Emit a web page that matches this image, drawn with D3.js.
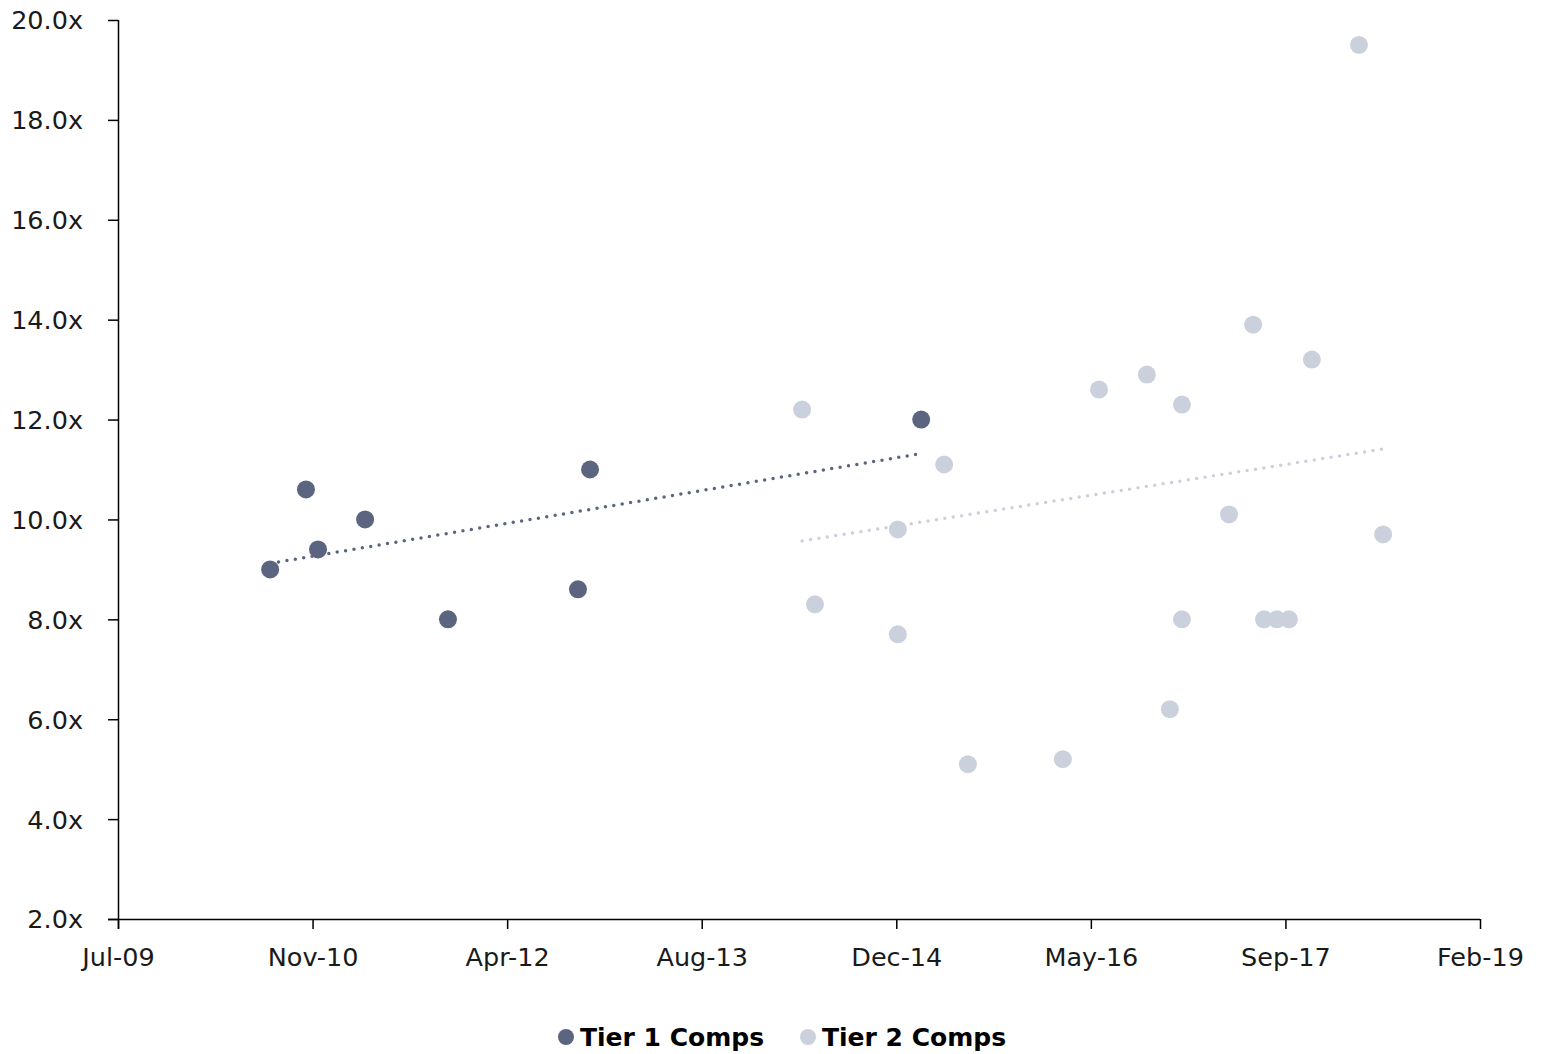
<!DOCTYPE html>
<html>
<head>
<meta charset="utf-8">
<script src="https://cdn.jsdelivr.net/npm/d3@7"></script>
<style>
  body { margin: 0; background: #fff; }
  svg text { font-family: "DejaVu Sans", "Liberation Sans", sans-serif; }
</style>
</head>
<body>
<svg id="drawing_region"></svg>
<script>
// dates are Excel serial numbers (days since 1899-12-30)
const tier1_dates = [40391, 40483, 40514, 40635, 40848, 41182, 41213, 42064];
const tier1_values = [9.0, 10.6, 9.4, 10.0, 8.0, 8.6, 11.0, 12.0];

const tier2_dates = [41758, 41791, 42004, 42004, 42123, 42184, 42428, 42521, 42644, 42703,
                     42734, 42734, 42855, 42917, 42945, 42978, 43009, 43068, 43189, 43251];
const tier2_values = [12.2, 8.3, 9.8, 7.7, 11.1, 5.1, 5.2, 12.6, 12.9, 6.2,
                      12.3, 8.0, 10.1, 13.9, 8.0, 8.0, 8.0, 13.2, 19.5, 9.7];

// trendline end values
const tier1_trend = [9.12, 11.32];
const tier2_trend = [9.57, 11.41];

const x_ticks = [40000, 40500, 41000, 41500, 42000, 42500, 43000, 43500];
const y_ticks = [2, 4, 6, 8, 10, 12, 14, 16, 18, 20];

const series_names = ["Tier 1 Comps", "Tier 2 Comps"];
const colors = ["#5b6580", "#cbd1dc"];

const config = {
    width: 1541,
    height: 1054,
    margin: {top: 20, right: 61, bottom: 135, left: 118}
};

const svg = d3.select('#drawing_region')
    .attr('width', config.width)
    .attr('height', config.height);

const inner_width = config.width - config.margin.left - config.margin.right;
const inner_height = config.height - config.margin.top - config.margin.bottom;

const chart = svg.append('g')
    .attr('transform', `translate(${config.margin.left}, ${config.margin.top})`);

const xscale = d3.scaleLinear()
    .domain([40000, 43500])
    .range([0, inner_width]);

const yscale = d3.scaleLinear()
    .domain([2, 20])
    .range([inner_height, 0]);

const excel_to_date = s => new Date(Date.UTC(1899, 11, 30) + s * 86400000);
const fmt = d3.utcFormat('%b-%y');

const xaxis = d3.axisBottom(xscale)
    .tickValues(x_ticks)
    .tickSize(10)
    .tickSizeOuter(0)
    .tickFormat(d => fmt(excel_to_date(d)));

const yaxis = d3.axisLeft(yscale)
    .tickValues(y_ticks)
    .tickSize(10)
    .tickSizeOuter(0)
    .tickFormat(d => d3.format('.1f')(d) + 'x');

const xg = chart.append('g')
    .attr('transform', `translate(0, ${inner_height})`)
    .call(xaxis);
xg.selectAll('text').attr('font-size', 25.5).attr('fill', '#1a1a1a').attr('y', 23).attr('dy', '0.95em');

const yg = chart.append('g').call(yaxis);
yg.selectAll('text').attr('font-size', 25.5).attr('fill', '#1a1a1a').attr('x', -35).attr('dy', '0.35em');
yg.selectAll('.tick line').attr('x2', -10);

[xg, yg].forEach(g => {
    g.selectAll('path, line').attr('stroke', '#000').attr('stroke-width', 1.5);
    g.attr('font-family', null);
});
// extend x axis line to the left past the y axis like Excel
xg.select('.domain').attr('d', `M-10,0.5H${inner_width}`);
yg.select('.domain').attr('d', `M0.5,0V${inner_height + 10}`);

const series = [
    {dates: tier1_dates, values: tier1_values, trend: tier1_trend},
    {dates: tier2_dates, values: tier2_values, trend: tier2_trend}
];

const line = d3.line().x(d => xscale(d[0])).y(d => yscale(d[1]));

// trendlines drawn first
series.forEach((s, i) => {
    const pts = [[d3.min(s.dates), s.trend[0]], [d3.max(s.dates), s.trend[1]]];
    chart.append('path')
        .attr('d', line(pts))
        .attr('fill', 'none')
        .attr('stroke', colors[i])
        .attr('stroke-width', 3.5)
        .attr('stroke-linecap', 'round')
        .attr('stroke-dasharray', '0 8.5');
});

series.forEach((s, i) => {
    chart.append('g').selectAll('circle')
        .data(s.dates.map((d, j) => [d, s.values[j]]))
        .enter()
        .append('circle')
        .attr('cx', d => xscale(d[0]))
        .attr('cy', d => yscale(d[1]))
        .attr('r', 9)
        .attr('fill', colors[i]);
});

// legend
const legend = svg.append('g').attr('transform', 'translate(0, 1037)');
const legend_x = [566, 808];
series_names.forEach((name, i) => {
    legend.append('circle')
        .attr('cx', legend_x[i])
        .attr('cy', 0)
        .attr('r', 8)
        .attr('fill', colors[i]);
    legend.append('text')
        .attr('x', legend_x[i] + 14)
        .attr('y', 0)
        .attr('dy', '0.36em')
        .attr('font-size', 25)
        .attr('font-weight', 'bold')
        .attr('fill', '#000')
        .text(name);
});
</script>
</body>
</html>
